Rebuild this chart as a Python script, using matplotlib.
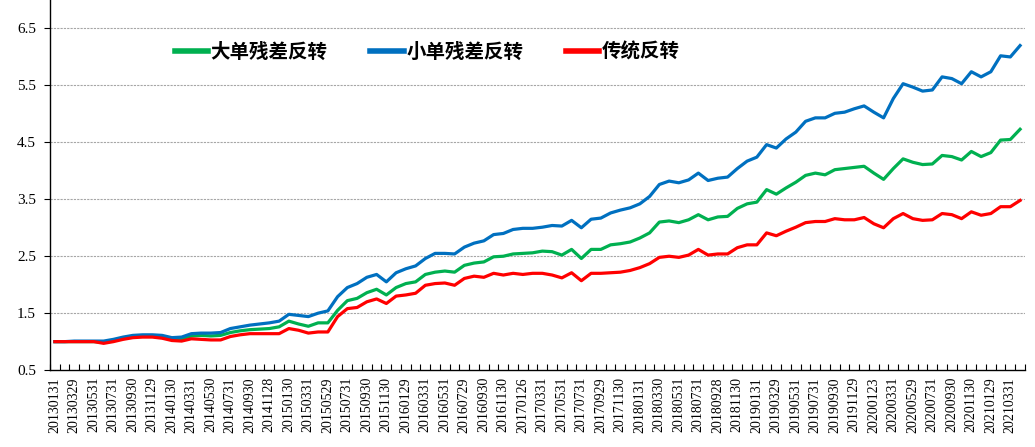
import matplotlib
matplotlib.use("Agg")
import matplotlib.pyplot as plt
import numpy as np

dates = [
    "20130131", "20130228", "20130329", "20130426", "20130531", "20130628", "20130731", "20130830", "20130930", "20131031", "20131129", "20131231",
    "20140130", "20140228", "20140331", "20140430", "20140530", "20140630", "20140731", "20140829", "20140930", "20141031", "20141128", "20141231",
    "20150130", "20150227", "20150331", "20150430", "20150529", "20150630", "20150731", "20150831", "20150930", "20151030", "20151130", "20151231",
    "20160129", "20160229", "20160331", "20160429", "20160531", "20160630", "20160729", "20160831", "20160930", "20161031", "20161130", "20161230",
    "20170126", "20170228", "20170331", "20170428", "20170531", "20170630", "20170731", "20170831", "20170929", "20171031", "20171130", "20171229",
    "20180131", "20180228", "20180330", "20180427", "20180531", "20180629", "20180731", "20180831", "20180928", "20181031", "20181130", "20181228",
    "20190131", "20190228", "20190329", "20190430", "20190531", "20190628", "20190731", "20190830", "20190930", "20191031", "20191129", "20191231",
    "20200123", "20200228", "20200331", "20200430", "20200529", "20200630", "20200731", "20200831", "20200930", "20201030", "20201130", "20201231",
    "20210129", "20210226", "20210331", "20210430",
]

# 大单残差反转
big_resid = [
    1.00, 1.00, 1.00, 1.00, 1.00, 0.99, 1.02, 1.06, 1.09, 1.10, 1.10, 1.09, 1.05, 1.05, 1.10, 1.11, 1.10, 1.11, 1.16, 1.19, 1.21, 1.22, 1.23, 1.26, 1.36,
    1.31, 1.27, 1.33, 1.33, 1.55, 1.72, 1.76, 1.86, 1.92, 1.82, 1.95, 2.02, 2.05, 2.18, 2.22, 2.24, 2.22, 2.34, 2.38, 2.40, 2.49,
    2.50, 2.54, 2.55, 2.56, 2.59, 2.58, 2.52, 2.62, 2.46, 2.62, 2.62, 2.70, 2.72, 2.75, 2.82, 2.91, 3.10, 3.12, 3.09, 3.14,
    3.23, 3.14, 3.19, 3.20, 3.34, 3.42, 3.45, 3.67, 3.59, 3.70, 3.80, 3.92, 3.96, 3.93, 4.02, 4.04, 4.06, 4.08,
    3.96, 3.85, 4.04, 4.21, 4.15, 4.11, 4.12, 4.27, 4.25, 4.19, 4.34, 4.25, 4.32, 4.54, 4.55, 4.73,
]

# 小单残差反转
small_resid = [
    1.00, 1.00, 1.01, 1.01, 1.01, 1.01, 1.04, 1.08, 1.11, 1.12, 1.12, 1.11, 1.07, 1.08, 1.14, 1.15, 1.15, 1.16, 1.23, 1.26, 1.29, 1.31, 1.33, 1.36, 1.48,
    1.46, 1.44, 1.50, 1.54, 1.79, 1.95, 2.02, 2.13, 2.18, 2.05, 2.21, 2.28, 2.33, 2.46, 2.55, 2.55, 2.54, 2.66, 2.73, 2.77, 2.88,
    2.90, 2.97, 2.99, 2.99, 3.01, 3.04, 3.03, 3.13, 3.00, 3.15, 3.17, 3.26, 3.31, 3.35, 3.42, 3.55, 3.76, 3.82, 3.79, 3.84,
    3.96, 3.83, 3.87, 3.89, 4.04, 4.17, 4.24, 4.46, 4.40, 4.56, 4.68, 4.87, 4.93, 4.93, 5.01, 5.03, 5.09, 5.14,
    5.03, 4.93, 5.27, 5.53, 5.47, 5.40, 5.42, 5.65, 5.62, 5.53, 5.74, 5.65, 5.74, 6.02, 6.00, 6.20,
]

# 传统反转
traditional = [
    1.00, 1.00, 1.00, 1.00, 1.00, 0.97, 1.00, 1.04, 1.07, 1.08, 1.08, 1.06, 1.02, 1.01, 1.05, 1.04, 1.03, 1.03, 1.09, 1.12, 1.14, 1.14, 1.14, 1.14, 1.23,
    1.20, 1.15, 1.17, 1.17, 1.44, 1.58, 1.60, 1.70, 1.75, 1.67, 1.80, 1.82, 1.85, 1.99, 2.02, 2.03, 1.99, 2.11, 2.15, 2.13, 2.20,
    2.17, 2.20, 2.18, 2.20, 2.20, 2.17, 2.12, 2.21, 2.07, 2.20, 2.20, 2.21, 2.22, 2.25, 2.30, 2.37, 2.48, 2.50, 2.48, 2.52,
    2.62, 2.52, 2.54, 2.54, 2.65, 2.70, 2.70, 2.91, 2.86, 2.94, 3.01, 3.09, 3.11, 3.11, 3.16, 3.14, 3.14, 3.18,
    3.07, 3.00, 3.16, 3.25, 3.16, 3.13, 3.14, 3.25, 3.23, 3.16, 3.28, 3.22, 3.25, 3.37, 3.37, 3.48,
]

series_names = ["大单残差反转", "小单残差反转", "传统反转"]
y_ticks = [0.5, 1.5, 2.5, 3.5, 4.5, 5.5, 6.5]

fig = plt.figure(figsize=(10.35, 4.47), dpi=100)
ax = fig.add_axes([0.0483, 0.172, 0.942, 0.828])

x = np.arange(len(dates))
ax.plot(x, big_resid, color="#00B050", lw=2.3, label=series_names[0], solid_joinstyle="round")
ax.plot(x, small_resid, color="#0070C0", lw=2.3, label=series_names[1], solid_joinstyle="round")
ax.plot(x, traditional, color="#FF0000", lw=2.3, label=series_names[2], solid_joinstyle="round")

ax.set_xlim(-0.5, len(dates) - 0.5)
ax.set_ylim(0.5, 7.0)

# y axis
ax.set_yticks(y_ticks)
ax.set_yticklabels([f"{v:.1f}" for v in y_ticks], family="Liberation Serif", fontsize=11)
for v in y_ticks[1:]:
    ax.axhline(v, color="#a6a6a6", lw=0.8, ls=(0, (2, 1)), zorder=0)
ax.tick_params(axis="y", direction="out", length=4, width=0.8, pad=6)

# x axis: labels every other month, tick marks between categories
ax.set_xticks(x[::2])
ax.set_xticklabels(dates[::2], rotation=90, family="Liberation Serif", fontsize=10)
ax.set_xticks(np.arange(len(dates) + 1) - 0.5, minor=True)
ax.tick_params(axis="x", which="major", length=0, pad=5)
ax.tick_params(axis="x", which="minor", direction="in", length=4, width=0.8)

for s in ["top", "right"]:
    ax.spines[s].set_visible(False)
ax.spines["left"].set_linewidth(1.0)
ax.spines["bottom"].set_linewidth(1.0)

leg = ax.legend(
    loc="center left",
    bbox_to_anchor=(0.110, 0.86),
    ncol=3,
    frameon=False,
    handlelength=1.7,
    handletextpad=0.15,
    columnspacing=2.2,
    prop={"family": ["Noto Sans CJK SC", "DejaVu Sans"], "size": 14, "weight": "bold"},
)
for line in leg.get_lines():
    line.set_linewidth(4)

fig.savefig("out.png", dpi=100, facecolor="white")
